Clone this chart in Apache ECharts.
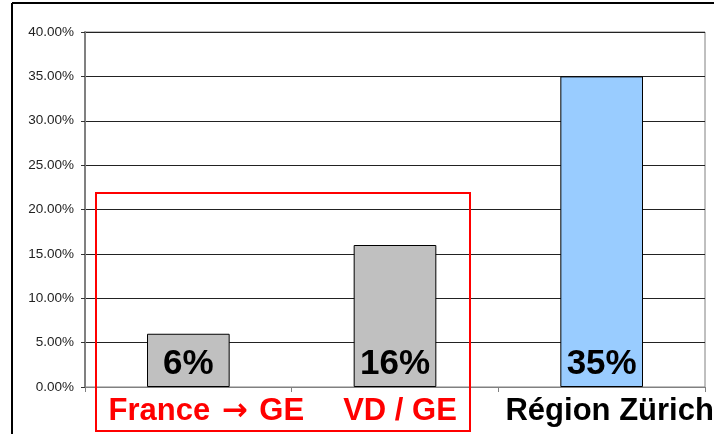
<!DOCTYPE html>
<html>
<head>
<meta charset="utf-8">
<script src="https://cdn.jsdelivr.net/npm/echarts@6/dist/echarts.min.js"></script>
<style>
    html, body { margin: 0; padding: 0; background: #fff; }
    #chart { width: 714px; height: 434px; }
</style>
</head>
<body>
<div id="chart"></div>
<script>
// Chart data
const categories = ['France \u2192 GE', 'VD / GE', 'Région Zürich'];
const shares = [0.06, 0.16, 0.35];
const barColors = ['#C0C0C0', '#C0C0C0', '#99CCFF'];
const labelColors = ['#FF0000', '#FF0000', '#000000'];
// small per-label nudges (the slide had hand-placed text boxes)
const labelShift = [18, 5, 8];

const chart = echarts.init(document.getElementById('chart'));

// rich styles for the category labels
const labelRich = {};
categories.forEach(function (c, i) {
    const base = { fontSize: 31, fontWeight: 'bold', color: labelColors[i], fontFamily: '"Liberation Sans", Arial, sans-serif' };
    labelRich['s' + i] = Object.assign({}, base, { padding: [0, 0, 0, labelShift[i] * 2] });
    labelRich['t' + i] = base;
    labelRich['a' + i] = Object.assign({}, base, { fontFamily: '"DejaVu Sans", sans-serif', padding: [0, 3, 0, 3] });
});

function formatCategory(value, index) {
    const parts = value.split('\u2192');
    let out = '{s' + index + '|}';
    parts.forEach(function (p, k) {
        if (k > 0) out += '{a' + index + '|\u2192}';
        out += '{t' + index + '|' + p + '}';
    });
    return out;
}

const option = {
    backgroundColor: '#ffffff',
    animation: false,
    textStyle: { fontFamily: '"Liberation Sans", Arial, sans-serif' },
    grid: {
        left: 85, right: 9, top: 32, bottom: 47,
        outerBoundsMode: 'none',
        show: true, borderColor: '#808080', borderWidth: 1
    },
    xAxis: {
        type: 'category',
        data: categories,
        axisLine: { lineStyle: { color: '#808080', width: 1 } },
        axisTick: { show: true, length: 5, lineStyle: { color: '#808080' } },
        axisLabel: {
            margin: 9,
            interval: 0,
            formatter: formatCategory,
            rich: labelRich
        }
    },
    yAxis: {
        type: 'value',
        min: 0,
        max: 0.4,
        interval: 0.05,
        axisLine: { show: true, lineStyle: { color: '#808080', width: 2 } },
        axisTick: { show: true, length: 4, lineStyle: { color: '#333' } },
        splitLine: { lineStyle: { color: '#222', width: 1 } },
        axisLabel: {
            fontSize: 13.5,
            color: '#222',
            margin: 11,
            formatter: function (v) {
                return (v * 100).toFixed(2) + '%';
            }
        }
    },
    series: [{
        type: 'bar',
        barWidth: '40%',
        data: shares.map(function (v, i) {
            return { value: v, itemStyle: { color: barColors[i] } };
        }),
        itemStyle: { borderColor: '#000', borderWidth: 1 },
        label: {
            show: true,
            position: 'insideBottom',
            distance: 5,
            fontSize: 35,
            fontWeight: 'bold',
            color: '#000',
            formatter: function (p) {
                return Math.round(p.value * 100) + '%';
            }
        }
    }],
    graphic: [
        // outer frame of the slide chart
        { type: 'line', shape: { x1: 12, y1: 3, x2: 714, y2: 3 }, style: { stroke: '#000', lineWidth: 2 } },
        { type: 'line', shape: { x1: 12, y1: 3, x2: 12, y2: 434 }, style: { stroke: '#000', lineWidth: 2 } },
        // red highlight box
        { type: 'rect', shape: { x: 96, y: 193, width: 374, height: 238 }, style: { fill: 'none', stroke: '#FF0000', lineWidth: 2 }, z: 100 }
    ]
};

chart.setOption(option);
</script>
</body>
</html>
